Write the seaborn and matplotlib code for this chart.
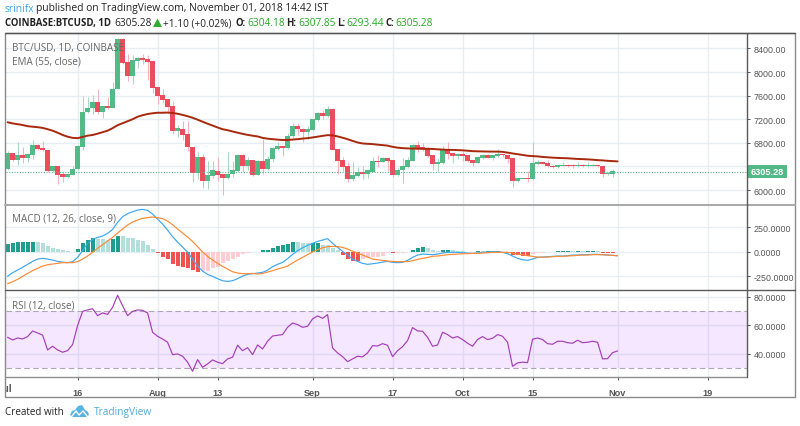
import matplotlib
matplotlib.use('Agg')
import matplotlib.pyplot as plt
from matplotlib.lines import Line2D
from matplotlib.patches import Polygon, Rectangle
from matplotlib.transforms import Bbox
import pandas as pd
import seaborn as sns

# daily candles, Jul 2 to Nov 1 2018
start_date = '2018-07-02'
opens = [6355, 6620, 6513, 6597, 6535, 6597, 6761, 6710, 6676, 6316,
         6400, 6271, 6214, 6259, 6350, 6721, 7318, 7386, 7487, 7324,
         7420, 7392, 7718, 8552, 8169, 7932, 8180, 8231, 8225, 8180,
         7741, 7606, 7538, 7420, 7003, 7042, 6947, 6733, 6282, 6558,
         6147, 6242, 6327, 6271, 6203, 6271, 6316, 6592, 6400, 6507,
         6254, 6490, 6355, 6524, 6693, 6744, 6710, 6913, 7082, 7042,
         6975, 7014, 7189, 7313, 7256, 7369, 6693, 6507, 6411, 6186,
         6231, 6310, 6276, 6310, 6490, 6473, 6535, 6507, 6254, 6338,
         6389, 6490, 6761, 6721, 6704, 6592, 6440, 6451, 6693, 6631,
         6575, 6614, 6586, 6507, 6462, 6541, 6597, 6541, 6575, 6609,
         6597, 6535, 6158, 6192, 6209, 6186, 6445, 6468, 6456, 6411,
         6383, 6411, 6428, 6423, 6406, 6428, 6406, 6411, 6423, 6411,
         6270, 6270, 6304.18]
closes = [6620, 6513, 6597, 6535, 6609, 6761, 6693, 6671, 6316, 6400,
          6259, 6214, 6265, 6355, 6738, 7324, 7386, 7487, 7330, 7420,
          7386, 7718, 8552, 8158, 7932, 8197, 8237, 8208, 8169, 7724,
          7589, 7521, 7403, 7003, 7048, 6935, 6721, 6282, 6558, 6147,
          6254, 6333, 6254, 6197, 6276, 6333, 6597, 6400, 6502, 6259,
          6490, 6355, 6524, 6710, 6744, 6710, 6918, 7082, 7031, 6975,
          7031, 7200, 7313, 7262, 7369, 6682, 6496, 6394, 6186, 6254,
          6310, 6276, 6333, 6490, 6473, 6535, 6490, 6259, 6344, 6406,
          6507, 6761, 6704, 6693, 6575, 6440, 6468, 6682, 6614, 6575,
          6614, 6575, 6490, 6462, 6558, 6597, 6541, 6586, 6609, 6592,
          6518, 6158, 6197, 6209, 6186, 6456, 6468, 6445, 6400, 6383,
          6423, 6428, 6411, 6406, 6428, 6406, 6428, 6423, 6406, 6276,
          6282, 6321, 6305.28]
highs = [6665, 6620, 6806, 6721, 6609, 6851, 6772, 6828, 6676, 6400,
         6400, 6327, 6271, 6400, 6761, 7594, 7583, 7606, 7707, 7425,
         7583, 7831, 8570, 8570, 8304, 8282, 8248, 8304, 8282, 8180,
         7741, 7707, 7538, 7504, 7099, 7172, 7172, 6733, 6637, 6609,
         6496, 6496, 6552, 6271, 6637, 6496, 6609, 6609, 6558, 6507,
         6502, 6862, 6569, 6733, 6806, 6749, 6963, 7132, 7132, 7054,
         7087, 7211, 7324, 7358, 7425, 7392, 6693, 6552, 6468, 6468,
         6383, 6400, 6355, 6552, 6592, 6558, 6547, 6513, 6383, 6535,
         6552, 6783, 6828, 6794, 6721, 6592, 6547, 6749, 6806, 6637,
         6625, 6665, 6592, 6513, 6569, 6614, 6603, 6592, 6693, 6614,
         6603, 6535, 6209, 6209, 6327, 6806, 6513, 6473, 6501, 6423,
         6428, 6468, 6440, 6434, 6473, 6440, 6468, 6440, 6428, 6423,
         6310, 6349, 6307.85]
lows = [6344, 6496, 6423, 6457, 6468, 6524, 6682, 6654, 6310, 6310,
        6096, 6130, 6197, 6254, 6344, 6676, 7301, 7285, 7285, 7223,
        7380, 7386, 7712, 8140, 7842, 7792, 8073, 8130, 7865, 7639,
        7454, 7482, 7313, 6947, 6902, 6851, 6654, 6130, 6186, 6034,
        6017, 6197, 6158, 5921, 6192, 6214, 6310, 6310, 6344, 6231,
        6254, 6271, 6344, 6468, 6682, 6580, 6693, 6890, 6930, 6806,
        6873, 7008, 7177, 7200, 7245, 6682, 6271, 6327, 6141, 6158,
        6214, 6186, 6197, 6299, 6383, 6468, 6327, 6214, 6242, 6118,
        6378, 6485, 6637, 6665, 6552, 6332, 6327, 6440, 6524, 6456,
        6524, 6485, 6468, 6411, 6456, 6524, 6535, 6507, 6563, 6552,
        6451, 6045, 6130, 6186, 6141, 6175, 6423, 6434, 6383, 6366,
        6366, 6406, 6394, 6366, 6394, 6389, 6394, 6400, 6394, 6220,
        6254, 6214, 6293.44]
ema55 = [7149, 7129, 7116, 7102, 7082, 7073, 7065, 7053, 7031, 7006,
         6972, 6933, 6904, 6884, 6879, 6899, 6921, 6933, 6955, 6980,
         7006, 7048, 7099, 7132, 7166, 7200, 7242, 7268, 7288, 7301,
         7310, 7310, 7313, 7306, 7293, 7273, 7251, 7225, 7192, 7158,
         7124, 7093, 7060, 7031, 7014, 6992, 6972, 6952, 6935, 6921,
         6908, 6884, 6870, 6862, 6854, 6848, 6848, 6855, 6862, 6872,
         6879, 6891, 6904, 6918, 6930, 6925, 6909, 6886, 6862, 6833,
         6806, 6789, 6783, 6778, 6769, 6761, 6752, 6732, 6718, 6710,
         6705, 6702, 6700, 6698, 6698, 6696, 6690, 6685, 6681, 6680,
         6676, 6673, 6666, 6659, 6656, 6654, 6652, 6651, 6651, 6647,
         6634, 6620, 6607, 6595, 6581, 6575, 6570, 6561, 6554, 6549,
         6544, 6541, 6538, 6532, 6527, 6524, 6519, 6514, 6507, 6502,
         6495, 6490, 6485]
macd = [-251, -214, -187, -159, -128, -98, -74, -67, -74, -84,
        -98, -105, -111, -101, -57, 12, 87, 128, 148, 162,
        189, 230, 302, 360, 391, 411, 428, 435, 425, 387,
        336, 285, 223, 155, 100, 49, -2, -74, -146, -197,
        -231, -251, -275, -296, -303, -296, -275, -248, -231, -224,
        -217, -210, -187, -152, -128, -108, -70, -26, 12, 42,
        66, 87, 107, 121, 135, 87, 46, 5, -33, -74,
        -98, -118, -128, -122, -115, -105, -98, -108, -111, -108,
        -87, -57, -33, -23, -26, -29, -23, -12, -5, -5,
        -5, -9, -12, -16, -12, -5, -2, 1, 1, -5,
        -19, -43, -67, -81, -87, -74, -57, -53, -50, -46,
        -43, -43, -40, -33, -33, -29, -29, -26, -26, -29,
        -33, -36, -40]
signal = [-327, -306, -282, -251, -221, -193, -169, -146, -132, -125,
          -118, -111, -111, -111, -101, -74, -43, -5, 36, 73,
          111, 148, 193, 234, 275, 305, 326, 343, 350, 357,
          350, 340, 316, 278, 234, 193, 152, 107, 53, -2,
          -46, -84, -118, -149, -176, -204, -217, -224, -224, -221,
          -228, -221, -207, -193, -176, -163, -146, -115, -84, -57,
          -29, -2, 22, 42, 53, 56, 53, 46, 29, 8,
          -12, -33, -53, -74, -81, -87, -94, -98, -101, -101,
          -101, -91, -77, -67, -57, -46, -43, -36, -29, -26,
          -23, -19, -19, -16, -16, -12, -9, -5, -5, -5,
          -5, -12, -23, -29, -40, -46, -53, -57, -53, -50,
          -46, -46, -43, -40, -36, -33, -33, -29, -29, -29,
          -33, -36, -40]
hist = [82, 89, 96, 96.5, 97, 103, 99, 89, 58, 44,
        27, 14, 7, 3, 31, 89, 123, 140, 133, 130,
        123, 133, 167, 166, 140, 139, 126, 109, 65, 31,
        -7, -48, -72, -123, -147, -157, -167, -190, -205, -200,
        -192, -167, -157, -113, -96, -75, -48, -20, -10, -3,
        3, 14, 20, 41, 56, 66, 80, 103, 96, 92,
        88, 90, 95, 75, 65, 37, 14, -37, -72, -89,
        -90, -70, -65, -55, -48, -38, -12, -16, -12, -8,
        -3, 24, 44, 52, 38, 20, 12, 20, 21, 17,
        10, 7, 3, 1, 7, 6, 7, 7.5, 8, -6,
        -14, -31, -37, -38, -40, -24, -15, -8, -5, -3,
        6, 7, 8, 5, 7, 5, 7, 8, 5, -7,
        -8, -9, -5]
rsi = [51.5, 49.6, 51.0, 50.3, 52.0, 55.9, 54.5, 53.1, 42.6, 45.2,
       42.6, 41.0, 42.1, 46.3, 59.7, 69.7, 70.7, 71.6, 66.7, 68.6,
       67.6, 72.5, 81.0, 73.7, 66.7, 69.7, 70.7, 70.4, 68.6, 55.0,
       52.2, 50.3, 48.0, 39.3, 39.8, 38.2, 34.0, 27.6, 35.8, 30.4,
       32.8, 35.6, 34.0, 33.0, 36.3, 37.5, 45.9, 42.1, 44.2, 39.3,
       46.1, 43.3, 48.7, 52.4, 52.9, 53.4, 58.5, 61.5, 60.4, 58.5,
       59.2, 64.4, 66.5, 64.8, 67.4, 44.0, 40.5, 37.9, 34.4, 36.3,
       38.2, 37.7, 40.5, 45.6, 45.4, 47.0, 45.9, 37.9, 42.1, 44.9,
       49.2, 58.3, 56.0, 55.7, 51.5, 45.2, 46.1, 55.0, 53.4, 51.0,
       52.0, 49.9, 47.3, 45.2, 49.9, 52.0, 49.9, 50.8, 53.4, 52.2,
       48.0, 31.1, 33.5, 34.0, 33.7, 50.1, 51.0, 49.9, 47.0, 46.6,
       48.7, 48.7, 47.7, 47.3, 49.4, 47.7, 48.0, 48.7, 48.0, 36.3,
       36.5, 40.7, 41.9]

last_close = 6305.28
price_ticks = [6000, 6400, 6800, 7200, 7600, 8000, 8400]
macd_ticks = [-250, 0, 250]
rsi_ticks = [40, 60, 80]
tick_dates = ['2018-07-16', '2018-08-01', '2018-08-13', '2018-09-01', '2018-09-17',
              '2018-10-01', '2018-10-15', '2018-11-01', '2018-11-19']
tick_names = ['16', 'Aug', '13', 'Sep', '17', 'Oct', '15', 'Nov', '19']

UP = '#53B987'
DOWN = '#EB4D5C'
UP_WICK = '#A9D8C0'
DOWN_WICK = '#F5B3B9'
GRID = '#E6EEF4'
TEXT = '#555555'
FRAME = '#8A8A8A'
FONT = 'Liberation Sans'
HEAD_FONT = 'Open Sans'

W, H = 800, 427
sns.set_theme(style='white')
plt.rcParams['font.family'] = [FONT, 'DejaVu Sans']

df = pd.DataFrame({'date': pd.date_range(start_date, periods=len(opens), freq='D'),
                   'open': opens, 'high': highs, 'low': lows, 'close': closes,
                   'ema': ema55, 'macd': macd, 'signal': signal, 'hist': hist, 'rsi': rsi})

fig = plt.figure(figsize=(W / 100, H / 100), dpi=100, facecolor='white')


def pane(top, bottom):
    # pane position given in image pixels
    return fig.add_axes([5.5 / W, 1 - bottom / H, 741 / W, (bottom - top) / H])


ax_price = pane(34.5, 205)
ax_macd = pane(206, 291)
ax_rsi = pane(291, 378)
x_min = pd.Timestamp('2018-07-01 14:00')
x_max = pd.Timestamp('2018-11-26 19:00')

for ax in (ax_price, ax_macd, ax_rsi):
    ax.set_xlim(x_min, x_max)
    ax.set_xticks(pd.to_datetime(tick_dates))
    ax.set_xticklabels([])
    ax.yaxis.tick_right()
    ax.grid(True, color=GRID, linewidth=1.0)
    ax.set_axisbelow(True)
    ax.tick_params(axis='y', length=2.2, width=0.7, color=TEXT, labelcolor=TEXT,
                   labelsize=6.4, pad=2.8, right=True)
    ax.tick_params(axis='x', length=0)
    for side in ax.spines.values():
        side.set_visible(False)
    ax.patch.set_alpha(0)

# price pane
ax_price.set_ylim(5763, 8653)
ax_price.set_yticks(price_ticks)
ax_price.set_yticklabels([f'{v:.2f}' for v in price_ticks])
rising = df['close'] >= df['open']
ax_price.vlines(df['date'], df['low'], df['high'], linewidth=0.75,
                colors=[UP_WICK if r else DOWN_WICK for r in rising], zorder=2)
ax_price.bar(df['date'], (df['close'] - df['open']).abs(), bottom=df[['open', 'close']].min(axis=1),
             width=0.84, color=[UP if r else DOWN for r in rising], linewidth=0, zorder=3)
sns.lineplot(data=df, x='date', y='ema', ax=ax_price, color='#A8280C', linewidth=1.4, zorder=4)
ax_price.axhline(last_close, color=UP, linewidth=0.8, linestyle=(0, (1, 1.4)), zorder=5)

# macd pane
ax_macd.set_ylim(-391, 480)
ax_macd.set_yticks(macd_ticks)
ax_macd.set_yticklabels([f'{v:.4f}' for v in macd_ticks])
hist_colors = []
for i, v in enumerate(hist):
    grew = i == 0 or v >= hist[i - 1]
    if v >= 0:
        hist_colors.append('#1F9E8E' if grew else '#B2DFDB')
    else:
        hist_colors.append('#FFCDD2' if grew else '#EF5350')
ax_macd.bar(df['date'], df['hist'], width=0.8, color=hist_colors, linewidth=0, zorder=2)
sns.lineplot(data=df, x='date', y='macd', ax=ax_macd, color='#3BA7F0', linewidth=0.85, zorder=3)
sns.lineplot(data=df, x='date', y='signal', ax=ax_macd, color='#FF8A33', linewidth=0.85, zorder=4)

# rsi pane
ax_rsi.set_ylim(23.6, 84.7)
ax_rsi.set_yticks(rsi_ticks)
ax_rsi.set_yticklabels([f'{v:.4f}' for v in rsi_ticks])
ax_rsi.axhspan(30, 70, color='#9915FF', alpha=0.1, linewidth=0, zorder=1)
for level in (30, 70):
    ax_rsi.axhline(level, color='#B0A5B5', linewidth=0.8, linestyle=(0, (5, 3)), zorder=2)
sns.lineplot(data=df, x='date', y='rsi', ax=ax_rsi, color='#A63DB8', linewidth=0.85, zorder=3)

for ax in (ax_price, ax_macd, ax_rsi):
    ax.set_xlabel('')
    ax.set_ylabel('')

ax_rsi.set_xticklabels(tick_names, fontsize=6.6, color=TEXT, fontweight='bold')
ax_rsi.tick_params(axis='x', length=2.2, width=0.7, color=TEXT, pad=5.5, bottom=True)
# July tick sits left of the pane, only the tail of its label shows
jul_label = ax_rsi.text(pd.Timestamp('2018-07-01 12:00'), -11 / 87, 'Jul', fontsize=7.2, color=TEXT, ha='center',
                        va='center', fontweight='bold', transform=ax_rsi.get_xaxis_transform(), clip_on=True)
jul_label.set_clip_box(Bbox([[5.5, 0], [746, H]]))


def px(x, y):
    return x / W, 1 - y / H


def head(x, y, s, color='#222222', size=7.4, weight='normal', family=HEAD_FONT):
    fig.text(x / W, 1 - y / H, s, color=color, fontsize=size, fontweight=weight,
             family=[family, 'DejaVu Sans'], va='center', ha='left')


def hline(x0, x1, y, color, width):
    fig.add_artist(Line2D([x0 / W, x1 / W], [1 - y / H, 1 - y / H], color=color, linewidth=width))


# outer frame and pane separators
fig.add_artist(Rectangle(px(5, 397.5), 790 / W, 363.5 / H, fill=False, edgecolor=FRAME, linewidth=1))
hline(5, 795, 34, '#555555', 1)
hline(5, 795, 205.5, '#AAAAAA', 1.5)
hline(5, 795, 291, '#5A5A5A', 1)
hline(5, 746.5, 378, '#8F8F8F', 1)
fig.add_artist(Line2D([746.5 / W, 746.5 / W], [1 - 34 / H, 1 - 378 / H], color='#5A5A5A', linewidth=1))

# last price tag over the scale
fig.add_artist(Rectangle(px(747, 179), 40 / W, 13.5 / H, facecolor=UP, edgecolor='none'))
fig.text(767 / W, 1 - 172.5 / H, '6305.28', color='white', fontsize=6.6, ha='center', va='center', fontweight='bold')

# header
head(5, 9, 'srinifx', color='#3BA7E0')
head(35.5, 9, 'published on TradingView.com, November 01, 2018 14:42 IST')
head(5, 23.5, 'COINBASE:BTCUSD, 1D', weight='bold', size=6.9)
head(114.5, 23.5, '6305.28', size=7.3)
fig.add_artist(Polygon([px(153, 28), px(162, 28), px(157.5, 19.5)], closed=True, facecolor='#2EAD2E', edgecolor='none'))
head(163, 23.5, '+1.10 (+0.02%)', size=7.3)
for x, s in [(236, 'O:'), (286, 'H:'), (337, 'L:'), (386, 'C:')]:
    head(x, 23.5, s, weight='bold', size=6.9)
for x, s in [(247.5, '6304.18'), (298, '6307.85'), (346, '6293.44'), (395, '6305.28')]:
    head(x, 23.5, s, color='#22AA22', size=7.3)

# pane titles
head(12, 48, 'BTC/USD, 1D, COINBASE', color='#666666', size=7.1)
head(12, 61.5, 'EMA (55, close)', color='#666666', size=7.1)
head(12, 219.5, 'MACD (12, 26, close, 9)', color='#666666', size=7.1)
head(12, 305.5, 'RSI (12, close)', color='#666666', size=7.1)

# footer
head(5, 413, 'Created with', size=7.1)
cloud = [(70, 416), (72, 412), (75, 411), (78, 407), (82, 406), (85, 411), (88, 413), (89, 416), (86, 418), (73, 418)]
fig.add_artist(Polygon([px(*p) for p in cloud], closed=True, facecolor='#56B4E0', edgecolor='none'))
fig.add_artist(Line2D([px(72, 417)[0], px(76, 412)[0], px(79, 416)[0], px(83, 412)[0], px(87, 417)[0]],
                      [px(72, 417)[1], px(76, 412)[1], px(79, 416)[1], px(83, 412)[1], px(87, 417)[1]],
                      color='white', linewidth=1))
head(94, 413, 'TradingView', color='#4FA8DC', size=7.3)

fig.savefig('out.png', dpi=100, facecolor='white')
